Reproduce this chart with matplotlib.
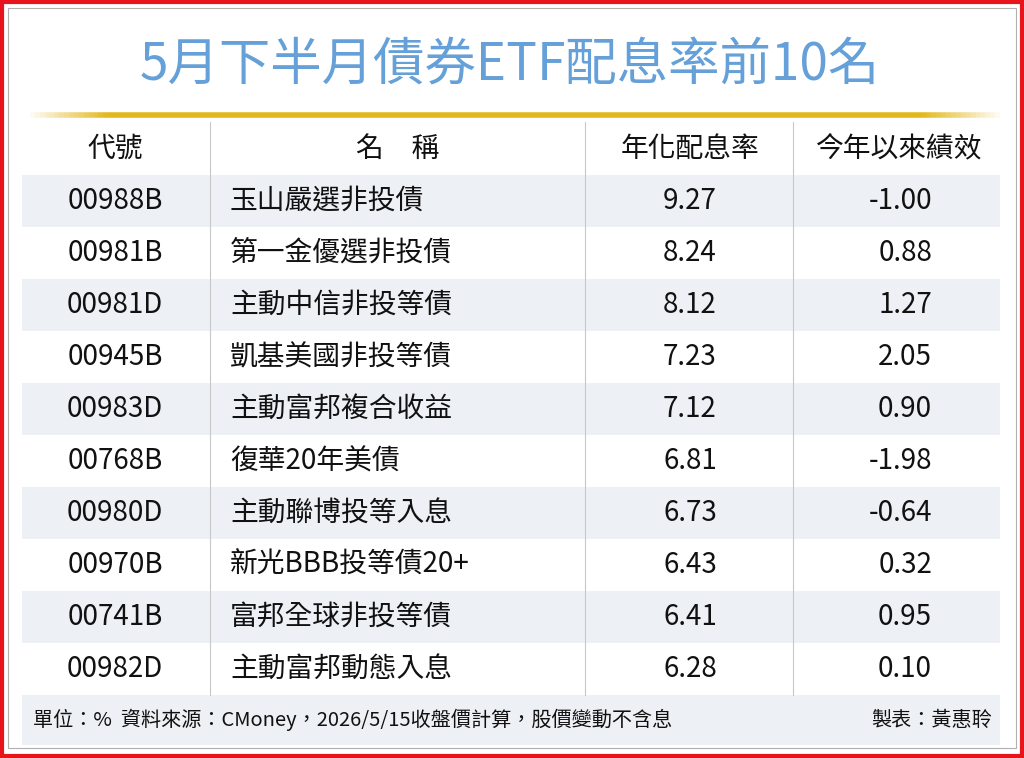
import numpy as np
import matplotlib.pyplot as plt
from matplotlib.patches import Rectangle

plt.rcParams['font.family'] = ['Noto Sans CJK TC', 'DejaVu Sans']

title = '5月下半月債券ETF配息率前10名'
headers = ['代號', '名　稱', '年化配息率', '今年以來績效']
codes = ['00988B', '00981B', '00981D', '00945B', '00983D',
         '00768B', '00980D', '00970B', '00741B', '00982D']
names = ['玉山嚴選非投債', '第一金優選非投債', '主動中信非投等債', '凱基美國非投等債',
         '主動富邦複合收益', '復華20年美債', '主動聯博投等入息', '新光BBB投等債20+',
         '富邦全球非投等債', '主動富邦動態入息']
rates = [9.27, 8.24, 8.12, 7.23, 7.12, 6.81, 6.73, 6.43, 6.41, 6.28]
perf = [-1.00, 0.88, 1.27, 2.05, 0.90, -1.98, -0.64, 0.32, 0.95, 0.10]
note = '單位：%  資料來源：CMoney，2026/5/15收盤價計算，股價變動不含息'
author = '製表：黃惠聆'

fig = plt.figure(figsize=(10.24, 7.58), dpi=100)
ax = fig.add_axes([0, 0, 1, 1])
ax.set_xlim(0, 1024)
ax.set_ylim(758, 0)
ax.axis('off')

band = '#edf0f5'
# borders
ax.add_patch(Rectangle((2, 2), 1020, 754, fill=False, ec='#e8141c', lw=3))
ax.add_patch(Rectangle((8, 8), 1008, 740, fill=False, ec='#b0b0b0', lw=0.8))

ax.text(510, 66, title, ha='center', va='center', fontsize=37,
        color='#65a0d8', fontweight='medium')

# gold line with faded ends
xs = np.linspace(25, 1000, 200)
for i in range(len(xs) - 1):
    t = (xs[i] - 25) / 975
    a = min(1, min(t, 1 - t) * 12)
    ax.plot(xs[i:i + 2], [115, 115], color='#e3b81c', lw=4, alpha=a,
            solid_capstyle='butt')

row_h = 52
top = 175
for i in range(len(codes)):
    y0 = top + i * row_h
    if i % 2 == 0:
        ax.add_patch(Rectangle((22, y0), 978, row_h, color=band, lw=0))
    yc = y0 + row_h / 2
    ax.text(115, yc, codes[i], ha='center', va='center', fontsize=20, color='#111')
    ax.text(230, yc, names[i], ha='left', va='center', fontsize=20, color='#111')
    ax.text(690, yc, f'{rates[i]:.2f}', ha='center', va='center', fontsize=20, color='#111')
    ax.text(932, yc, f'{perf[i]:.2f}', ha='right', va='center', fontsize=20, color='#111')

hx = [115, 398, 690, 898]
for x, h in zip(hx, headers):
    ax.text(x, 149, h, ha='center', va='center', fontsize=20, color='#111')

for x in [210, 585, 793]:
    ax.plot([x, x], [122, top + 10 * row_h], color='#c8c8c8', lw=0.8)

fy = top + 10 * row_h
ax.add_patch(Rectangle((22, fy), 978, 50, color=band, lw=0))
ax.text(33, fy + 25, note, ha='left', va='center', fontsize=14.5, color='#111')
ax.text(992, fy + 25, author, ha='right', va='center', fontsize=14.5, color='#111')

fig.savefig('out.png', dpi=100, facecolor='white')
